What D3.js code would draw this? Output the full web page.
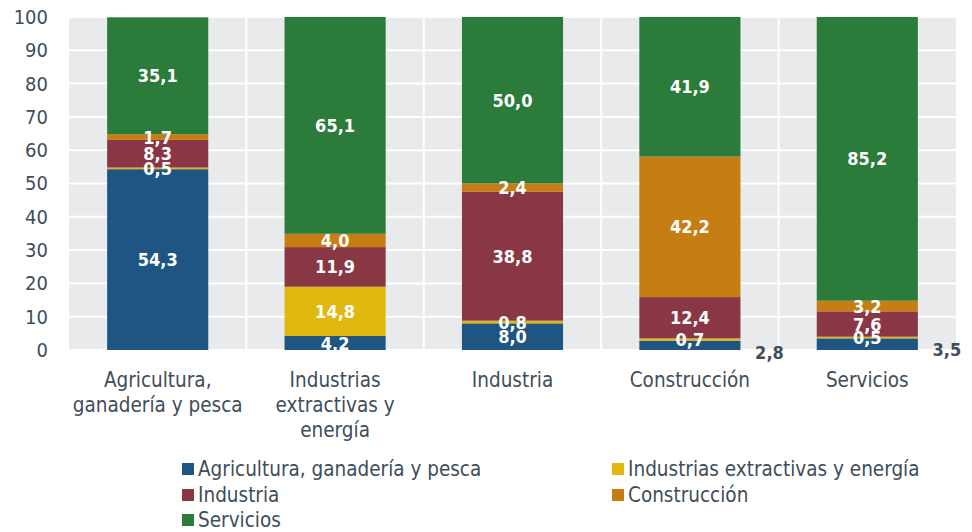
<!DOCTYPE html>
<html><head><meta charset="utf-8">
<script src="https://cdn.jsdelivr.net/npm/d3@7"></script>
<style>
html,body{margin:0;padding:0;background:#fff;}
text{font-family:"DejaVu Sans Condensed","DejaVu Sans",sans-serif;}
</style></head>
<body>
<svg id="chart" width="972" height="532"></svg>
<script>
const categories = [["Agricultura,","ganadería y pesca"],["Industrias","extractivas y","energía"],["Industria"],["Construcción"],["Servicios"]];
const seriesNames = ["Agricultura, ganadería y pesca","Industrias extractivas y energía","Industria","Construcción","Servicios"];
const agricultura = [54.3, 4.2, 8.0, 2.8, 3.5];
const extractivas = [0.5, 14.8, 0.8, 0.7, 0.5];
const industria = [8.3, 11.9, 38.8, 12.4, 7.6];
const construccion = [1.7, 4.0, 2.4, 42.2, 3.2];
const servicios = [35.1, 65.1, 50.0, 41.9, 85.2];
const yTicks = [0,10,20,30,40,50,60,70,80,90,100];
const colors = ["#1f5582","#dfb90f","#8a3745","#c67d13","#2b7b3b"];
const textColor = "#404e5a";

const series = [agricultura, extractivas, industria, construccion, servicios];
const catKeys = categories.map(c => c.join(" "));
const table = catKeys.map((k,i) => {
  const o = {cat:k};
  seriesNames.forEach((s,j) => o[s] = series[j][i]);
  return o;
});

const svg = d3.select("#chart");
const L = 69, R = 956, T = 17, B = 350;
const x = d3.scaleBand().domain(catKeys).range([L,R]).padding(0);
const y = d3.scaleLinear().domain([0,100]).range([B,T]);
const barFrac = 0.57;
const bw = x.bandwidth()*barFrac;

// plot background
svg.append("rect").attr("x",L).attr("y",T).attr("width",R-L).attr("height",B-T).attr("fill","#e9eaec");
// gridlines
svg.append("g").selectAll("line").data(yTicks).join("line")
  .attr("x1",L).attr("x2",R).attr("y1",d=>y(d)).attr("y2",d=>y(d))
  .attr("stroke","#fff").attr("stroke-width",2);
svg.append("g").selectAll("line").data(catKeys.slice(1)).join("line")
  .attr("x1",d=>x(d)).attr("x2",d=>x(d)).attr("y1",T).attr("y2",B)
  .attr("stroke","#fff").attr("stroke-width",2);

// y axis
const yAxis = svg.append("g").attr("transform",`translate(${L},0)`)
  .call(d3.axisLeft(y).tickValues(yTicks).tickSize(0).tickPadding(21));
yAxis.select(".domain").remove();
yAxis.selectAll("text").attr("font-size",20).attr("fill",textColor)
  .style("font-family","'DejaVu Sans Condensed','DejaVu Sans',sans-serif");

// stacks
const stack = d3.stack().keys(seriesNames)(table);
svg.append("defs").append("clipPath").attr("id","plotclip")
  .append("rect").attr("x",L).attr("y",T).attr("width",R-L).attr("height",B-T);

const gBars = svg.append("g");
stack.forEach((layer,j) => {
  gBars.append("g").attr("fill",colors[j]).selectAll("rect").data(layer).join("rect")
    .attr("x",d=>x(d.data.cat)+(x.bandwidth()-bw)/2)
    .attr("width",bw)
    .attr("y",d=>y(d[1]))
    .attr("height",d=>y(d[0])-y(d[1]));
});

const fmt = v => v.toFixed(1).replace(".",",");
const gLab = svg.append("g").attr("clip-path","url(#plotclip)");
const outside = svg.append("g");
stack.forEach((layer,j) => {
  layer.forEach((d,i) => {
    const v = d[1]-d[0];
    const cx = x(d.data.cat)+x.bandwidth()/2;
    if (j===0 && v < 4) {
      // small base values labelled beside the bar
      outside.append("text").attr("x",cx+bw/2+29).attr("y",y(0)+(i===3?2:-1))
        .attr("text-anchor","middle").attr("dominant-baseline","central")
        .attr("font-size",18).attr("font-weight","bold").attr("fill",textColor)
        .text(fmt(v));
    } else {
      gLab.append("text").attr("x",cx).attr("y",y((d[0]+d[1])/2))
        .attr("text-anchor","middle").attr("dominant-baseline","central")
        .attr("font-size",18).attr("font-weight","bold").attr("fill","#fff")
        .text(fmt(v));
    }
  });
});

// category labels
categories.forEach((lines,i) => {
  const cx = x(catKeys[i])+x.bandwidth()/2;
  const t = svg.append("text").attr("x",cx).attr("y",387)
    .attr("text-anchor","middle").attr("font-size",20.5).attr("fill",textColor);
  lines.forEach((ln,k) => t.append("tspan").attr("x",cx).attr("y",387+k*25).text(ln));
});

// legend
const legPos = [[182,469],[612,469],[182,495],[612,495],[182,520]];
seriesNames.forEach((s,j) => {
  const [lx,ly] = legPos[j];
  svg.append("rect").attr("x",lx).attr("y",ly-6).attr("width",12).attr("height",12).attr("fill",colors[j]);
  svg.append("text").attr("x",lx+16).attr("y",ly).attr("dominant-baseline","central")
    .attr("font-size",20.5).attr("fill",textColor).text(s);
});
</script>
</body></html>
